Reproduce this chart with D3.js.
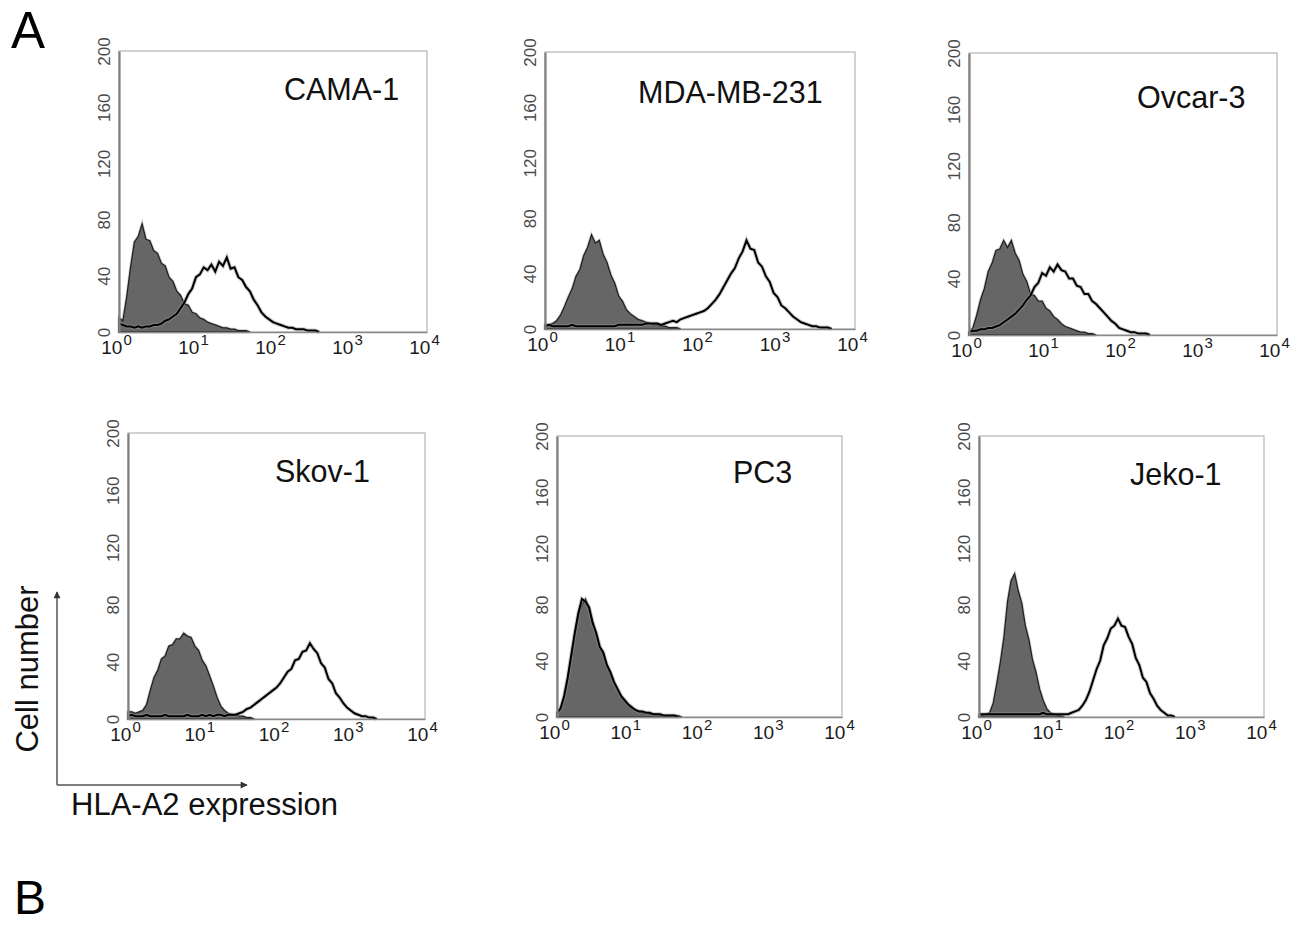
<!DOCTYPE html>
<html>
<head>
<meta charset="utf-8">
<script src="https://cdn.jsdelivr.net/npm/d3@7"></script>
<style>
  body { margin: 0; background: #fff; }
  svg { display: block; font-family: "Liberation Sans", Arial, sans-serif; }
</style>
</head>
<body>
<div class="chart"></div>
<script>
var svgWidth = 1301;
var svgHeight = 927;

// cell lines shown, in panel order
var cellLines = ["CAMA-1", "MDA-MB-231", "Ovcar-3", "Skov-1", "PC3", "Jeko-1"];

// axis ticks
var yTicks = [0, 40, 80, 120, 160, 200];
var xTickExps = [0, 1, 2, 3, 4];

// histogram bins: counts every 0.05 decade starting at 10^0
var binStep = 0.05;

// isotype control (filled grey) and HLA-A2 staining (black line)
var camaIso = [10, 8, 25, 46, 64, 68, 77, 66, 65, 58, 56, 49, 47, 39, 36, 29, 26, 20, 19, 14, 13, 10, 9, 7, 6, 5, 4, 3, 3, 2, 2, 1, 1, 1, 0];
var camaHla = [6, 5, 4, 4, 3, 4, 3, 4, 4, 5, 5, 6, 8, 9, 11, 13, 17, 21, 27, 31, 39, 41, 46, 44, 48, 43, 50, 47, 53, 45, 46, 39, 37, 32, 29, 23, 19, 14, 11, 9, 7, 6, 5, 4, 3, 3, 2, 2, 2, 1, 1, 1, 0];

var mdaIso = [3, 3, 4, 6, 10, 16, 23, 29, 38, 43, 53, 59, 68, 62, 64, 54, 48, 39, 33, 24, 20, 14, 11, 9, 7, 6, 5, 4, 3, 3, 2, 2, 1, 1, 1, 0];
var mdaHla = [2, 3, 2, 2, 2, 2, 2, 3, 2, 2, 2, 2, 2, 2, 2, 2, 2, 2, 2, 3, 3, 3, 3, 3, 3, 3, 4, 4, 4, 4, 3, 4, 5, 6, 5, 7, 8, 9, 10, 11, 12, 13, 15, 18, 21, 25, 30, 35, 40, 44, 51, 56, 64, 58, 57, 48, 45, 38, 34, 26, 23, 17, 15, 12, 9, 7, 5, 4, 3, 2, 2, 1, 1, 1, 0];

var ovcarIso = [2, 5, 14, 25, 33, 45, 51, 60, 61, 67, 62, 67, 58, 53, 43, 38, 29, 28, 24, 24, 19, 17, 13, 11, 8, 6, 5, 4, 3, 2, 2, 1, 1, 0];
var ovcarHla = [2, 3, 3, 4, 4, 5, 5, 6, 7, 9, 11, 13, 15, 18, 21, 25, 28, 34, 37, 44, 42, 48, 45, 50, 46, 45, 40, 40, 35, 34, 29, 29, 24, 22, 19, 16, 13, 10, 8, 5, 4, 3, 2, 2, 1, 1, 1, 0];

var skovIso = [5, 5, 4, 5, 6, 10, 20, 29, 34, 42, 44, 51, 52, 56, 56, 60, 58, 57, 51, 48, 41, 37, 30, 23, 15, 9, 6, 4, 3, 3, 2, 2, 1, 1, 0];
var skovHla = [2, 3, 2, 2, 2, 3, 2, 2, 2, 2, 3, 2, 2, 2, 2, 2, 3, 2, 2, 2, 3, 2, 3, 2, 3, 3, 2, 3, 3, 3, 4, 5, 7, 8, 10, 12, 14, 16, 18, 20, 22, 25, 29, 33, 35, 41, 42, 47, 48, 53, 49, 46, 39, 36, 28, 25, 18, 15, 11, 8, 6, 4, 3, 2, 2, 1, 1, 0];

var pc3Iso = [3, 6, 14, 26, 42, 58, 72, 80, 84, 78, 68, 58, 50, 44, 37, 30, 24, 19, 14, 11, 8, 6, 5, 4, 3, 3, 2, 2, 2, 1, 1, 1, 1, 1, 1, 0];
var pc3Hla = [3, 6, 15, 28, 44, 60, 74, 84, 82, 78, 67, 60, 50, 46, 37, 32, 25, 20, 15, 12, 9, 7, 5, 4, 4, 3, 3, 2, 2, 2, 1, 1, 1, 1, 0];

var jekoIso = [1, 1, 2, 3, 10, 24, 39, 57, 82, 97, 102, 90, 81, 65, 55, 41, 32, 20, 12, 6, 3, 2, 1, 1, 0];
var jekoHla = [2, 2, 2, 2, 2, 2, 2, 2, 2, 2, 2, 2, 2, 2, 2, 2, 2, 2, 3, 2, 2, 2, 2, 2, 2, 2, 3, 4, 5, 8, 12, 18, 26, 34, 40, 51, 56, 63, 65, 70, 65, 64, 57, 52, 42, 37, 28, 25, 17, 13, 8, 5, 3, 1, 1, 0];

// panel boxes (pixels) and where each title sits
var panels = [
  { name: cellLines[0], iso: camaIso, hla: camaHla, x: 119, y: 51, w: 308, h: 281, tx: 284, ty: 100 },
  { name: cellLines[1], iso: mdaIso, hla: mdaHla, x: 545, y: 52, w: 310, h: 277, tx: 638, ty: 103 },
  { name: cellLines[2], iso: ovcarIso, hla: ovcarHla, x: 969, y: 53, w: 308, h: 282, tx: 1137, ty: 108 },
  { name: cellLines[3], iso: skovIso, hla: skovHla, x: 128, y: 433, w: 297, h: 286, tx: 275, ty: 482 },
  { name: cellLines[4], iso: pc3Iso, hla: pc3Hla, x: 557, y: 436, w: 285, h: 281, tx: 733, ty: 483 },
  { name: cellLines[5], iso: jekoIso, hla: jekoHla, x: 979, y: 436, w: 285, h: 281, tx: 1130, ty: 485 },
];

var svg = d3
  .select(".chart")
  .append("svg")
  .attr("width", svgWidth)
  .attr("height", svgHeight);

function toPoints(arr) {
  return arr.map((c, i) => ({ v: Math.pow(10, i * binStep), count: c }));
}

panels.forEach((p) => {
  let g = svg.append("g").attr("transform", `translate(${p.x}, ${p.y})`);

  let xScale = d3.scaleLog().domain([1, 10000]).range([0, p.w]);
  let yScale = d3.scaleLinear().domain([0, 200]).range([p.h, 0]);

  // frame (top / right)
  g.append("rect")
    .attr("width", p.w)
    .attr("height", p.h)
    .attr("fill", "none")
    .attr("stroke", "#b4b4b4")
    .attr("stroke-width", 1.2);

  // isotype control, filled
  let area = d3
    .area()
    .x((d) => xScale(d.v))
    .y0(p.h)
    .y1((d) => yScale(d.count));

  g.append("path")
    .datum(toPoints(p.iso))
    .attr("fill", "#666")
    .attr("stroke", "#aaa")
    .attr("stroke-width", 3)
    .attr("stroke-opacity", 0.5)
    .attr("d", area);

  g.append("path")
    .datum(toPoints(p.iso))
    .attr("fill", "#666")
    .attr("stroke", "#222")
    .attr("stroke-width", 1.3)
    .attr("d", area);

  // HLA-A2, open line
  let line = d3
    .line()
    .x((d) => xScale(d.v))
    .y((d) => yScale(d.count));

  g.append("path")
    .datum(toPoints(p.hla))
    .attr("fill", "none")
    .attr("stroke", "#999")
    .attr("stroke-width", 4)
    .attr("opacity", 0.5)
    .attr("d", line);

  g.append("path")
    .datum(toPoints(p.hla))
    .attr("fill", "none")
    .attr("stroke", "#000")
    .attr("stroke-width", 2)
    .attr("d", line);

  // y axis
  let yAxis = g
    .append("g")
    .call(d3.axisLeft(yScale).tickValues(yTicks).tickSize(0).tickSizeOuter(0));
  yAxis.select(".domain").attr("stroke", "#808080").attr("stroke-width", 2.2);
  yAxis
    .selectAll("text")
    .attr("transform", "rotate(-90)")
    .attr("x", 0)
    .attr("y", -9)
    .attr("dy", 0)
    .attr("text-anchor", "middle")
    .attr("fill", "#4a4a4a")
    .style("font-size", "17px")
    .style("font-family", '"Liberation Sans", Arial, sans-serif');

  // x axis with 10^n labels
  let xAxis = g
    .append("g")
    .attr("transform", `translate(0, ${p.h})`)
    .call(
      d3
        .axisBottom(xScale)
        .tickValues(xTickExps.map((e) => Math.pow(10, e)))
        .tickSize(0)
        .tickSizeOuter(0)
        .tickFormat("")
    );
  xAxis.select(".domain").attr("stroke", "#8a8a8a").attr("stroke-width", 1.6);
  xAxis.selectAll(".tick text").remove();
  xAxis.selectAll(".tick").each(function (d, i) {
    let t = d3
      .select(this)
      .append("text")
      .attr("x", -3)
      .attr("y", 22)
      .attr("text-anchor", "middle")
      .attr("fill", "#1a1a1a")
      .style("font-size", "19px")
      .style("font-family", '"Liberation Sans", Arial, sans-serif');
    t.append("tspan").text("10");
    t.append("tspan").attr("dy", -9).attr("dx", 1).style("font-size", "15px").text(xTickExps[i]);
  });

  // cell line title
  svg
    .append("text")
    .attr("x", p.tx)
    .attr("y", p.ty)
    .attr("fill", "#111")
    .style("font-size", "30.5px")
    .text(p.name);
});

// panel letters
svg.append("text").attr("x", 11).attr("y", 48).style("font-size", "51px").attr("fill", "#000").text("A");
svg.append("text").attr("x", 14).attr("y", 914).style("font-size", "48px").attr("fill", "#000").text("B");

// schematic axes legend
let defs = svg.append("defs");
defs
  .append("marker")
  .attr("id", "arrow")
  .attr("viewBox", "0 0 10 10")
  .attr("refX", 9)
  .attr("refY", 5)
  .attr("markerWidth", 11)
  .attr("markerHeight", 7)
  .attr("markerUnits", "userSpaceOnUse")
  .attr("orient", "auto")
  .append("path")
  .attr("d", "M0,0 L10,5 L0,10 z")
  .attr("fill", "#333");

svg.append("line")
  .attr("x1", 57).attr("y1", 785).attr("x2", 57).attr("y2", 592)
  .attr("stroke", "#555").attr("stroke-width", 1.5)
  .attr("marker-end", "url(#arrow)");
svg.append("line")
  .attr("x1", 57).attr("y1", 785).attr("x2", 247).attr("y2", 785)
  .attr("stroke", "#555").attr("stroke-width", 1.5)
  .attr("marker-end", "url(#arrow)");

svg.append("text")
  .attr("transform", "translate(38, 669) rotate(-90)")
  .attr("text-anchor", "middle")
  .style("font-size", "31px")
  .attr("fill", "#111")
  .text("Cell number");

svg.append("text")
  .attr("x", 71)
  .attr("y", 815)
  .style("font-size", "31px")
  .attr("fill", "#111")
  .text("HLA-A2 expression");
</script>
</body>
</html>
